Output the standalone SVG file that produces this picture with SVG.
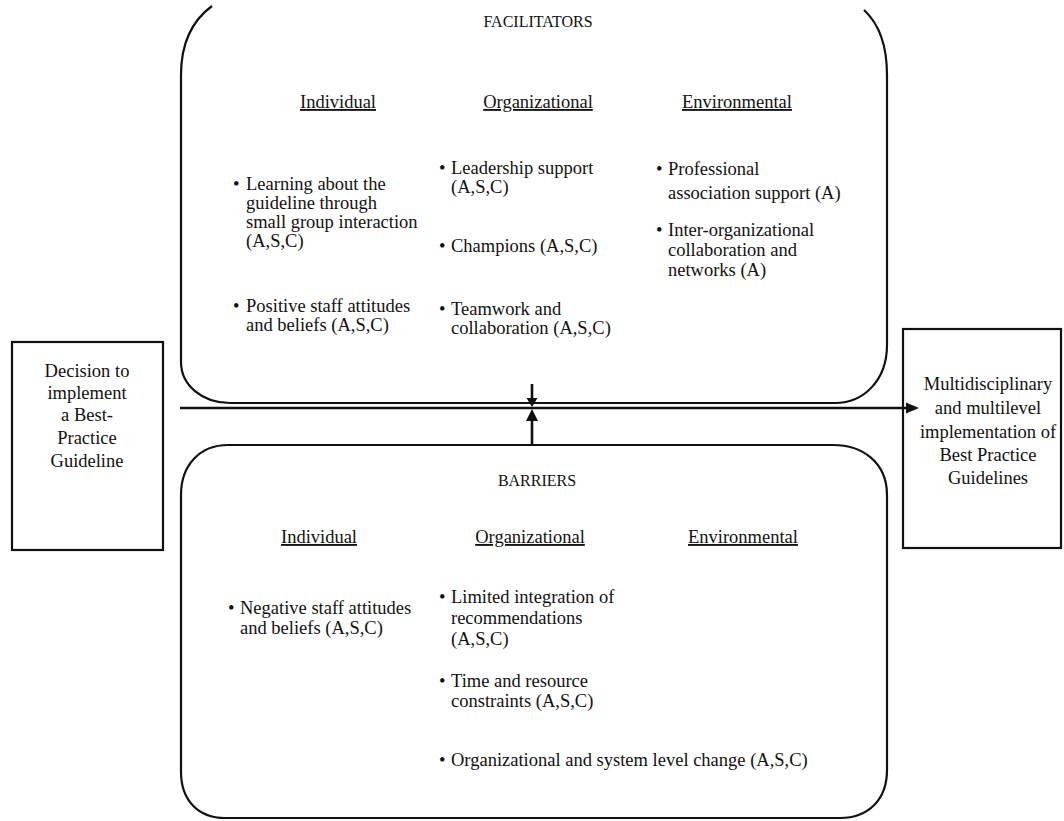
<svg xmlns="http://www.w3.org/2000/svg" width="1064" height="821" viewBox="0 0 1064 821">
<style>
text{font-family:"Liberation Serif","Times New Roman",serif;fill:#111;font-size:18.5px}
.c{text-anchor:middle}
.t{font-size:16px}
.h{text-decoration:underline}
.box{fill:none;stroke:#111;stroke-width:2.2}
.ln{fill:none;stroke:#111;stroke-width:2.6}
.ah{fill:#111}
</style>
<rect width="1064" height="821" fill="#fff"/>
<g id="facilitators">
<path class="box" d="M212,6 C193,20 181,42 181,75 L181,362 C181,385 202,403 230,403 L835,403 C864,403 887,380 887,345 L887,75 C887,42 877,22 864,10"/>
<text class="c t" x="538" y="27">FACILITATORS</text>
<text class="c h" x="338" y="108">Individual</text>
<text class="c h" x="538" y="108">Organizational</text>
<text class="c h" x="737" y="108">Environmental</text>
<text x="233" y="190">• <tspan x="246">Learning about the</tspan></text>
<text x="246" y="209">guideline through</text>
<text x="246" y="228">small group interaction</text>
<text x="246" y="247">(A,S,C)</text>
<text x="233" y="312">• <tspan x="246">Positive staff attitudes</tspan></text>
<text x="246" y="331">and beliefs (A,S,C)</text>
<text x="439" y="174">• <tspan x="451">Leadership support</tspan></text>
<text x="451" y="193">(A,S,C)</text>
<text x="439" y="252">• <tspan x="451">Champions (A,S,C)</tspan></text>
<text x="439" y="315">• <tspan x="451">Teamwork and</tspan></text>
<text x="451" y="334">collaboration (A,S,C)</text>
<text x="656" y="175">• <tspan x="668">Professional</tspan></text>
<text x="668" y="199">association support (A)</text>
<text x="656" y="236">• <tspan x="668">Inter-organizational</tspan></text>
<text x="668" y="256">collaboration and</text>
<text x="668" y="276">networks (A)</text>
</g>
<g id="barriers">
<path class="box" d="M228,445 L833,445 C862,445 887,462 887,495 L887,770 C887,800 868,818 840,818 L225,818 C198,818 181,800 181,772 L181,495 C181,465 200,445 228,445 Z"/>
<text class="c t" x="537" y="486">BARRIERS</text>
<text class="c h" x="319" y="543">Individual</text>
<text class="c h" x="530" y="543">Organizational</text>
<text class="c h" x="743" y="543">Environmental</text>
<text x="228" y="614">• <tspan x="240">Negative staff attitudes</tspan></text>
<text x="240" y="634">and beliefs (A,S,C)</text>
<text x="439" y="603">• <tspan x="451">Limited integration of</tspan></text>
<text x="451" y="624">recommendations</text>
<text x="451" y="645">(A,S,C)</text>
<text x="439" y="687">• <tspan x="451">Time and resource</tspan></text>
<text x="451" y="707">constraints (A,S,C)</text>
<text x="439" y="766">• <tspan x="451">Organizational and system level change (A,S,C)</tspan></text>
</g>
<g id="decision">
<rect class="box" x="12" y="342" width="151" height="208"/>
<text class="c" x="87" y="377">Decision to</text>
<text class="c" x="87" y="399">implement</text>
<text class="c" x="87" y="421">a Best-</text>
<text class="c" x="87" y="444">Practice</text>
<text class="c" x="87" y="467">Guideline</text>
</g>
<g id="outcome">
<rect class="box" x="903" y="329" width="158" height="219"/>
<text class="c" x="988" y="390">Multidisciplinary</text>
<text class="c" x="988" y="414">and multilevel</text>
<text class="c" x="988" y="438">implementation of</text>
<text class="c" x="988" y="461">Best Practice</text>
<text class="c" x="988" y="484">Guidelines</text>
</g>
<g id="connectors">
<line class="ln" x1="180" y1="408" x2="908" y2="408"/>
<polygon class="ah" points="906,402.5 919,408 906,413.5"/>
<line class="ln" x1="532" y1="384" x2="532" y2="399" stroke-width="1.6"/>
<polygon class="ah" points="526.5,398 537.5,398 532,407"/>
<line class="ln" x1="532" y1="445" x2="532" y2="420" stroke-width="1.8"/>
<polygon class="ah" points="526,421 538,421 532,409"/>
</g>
</svg>
